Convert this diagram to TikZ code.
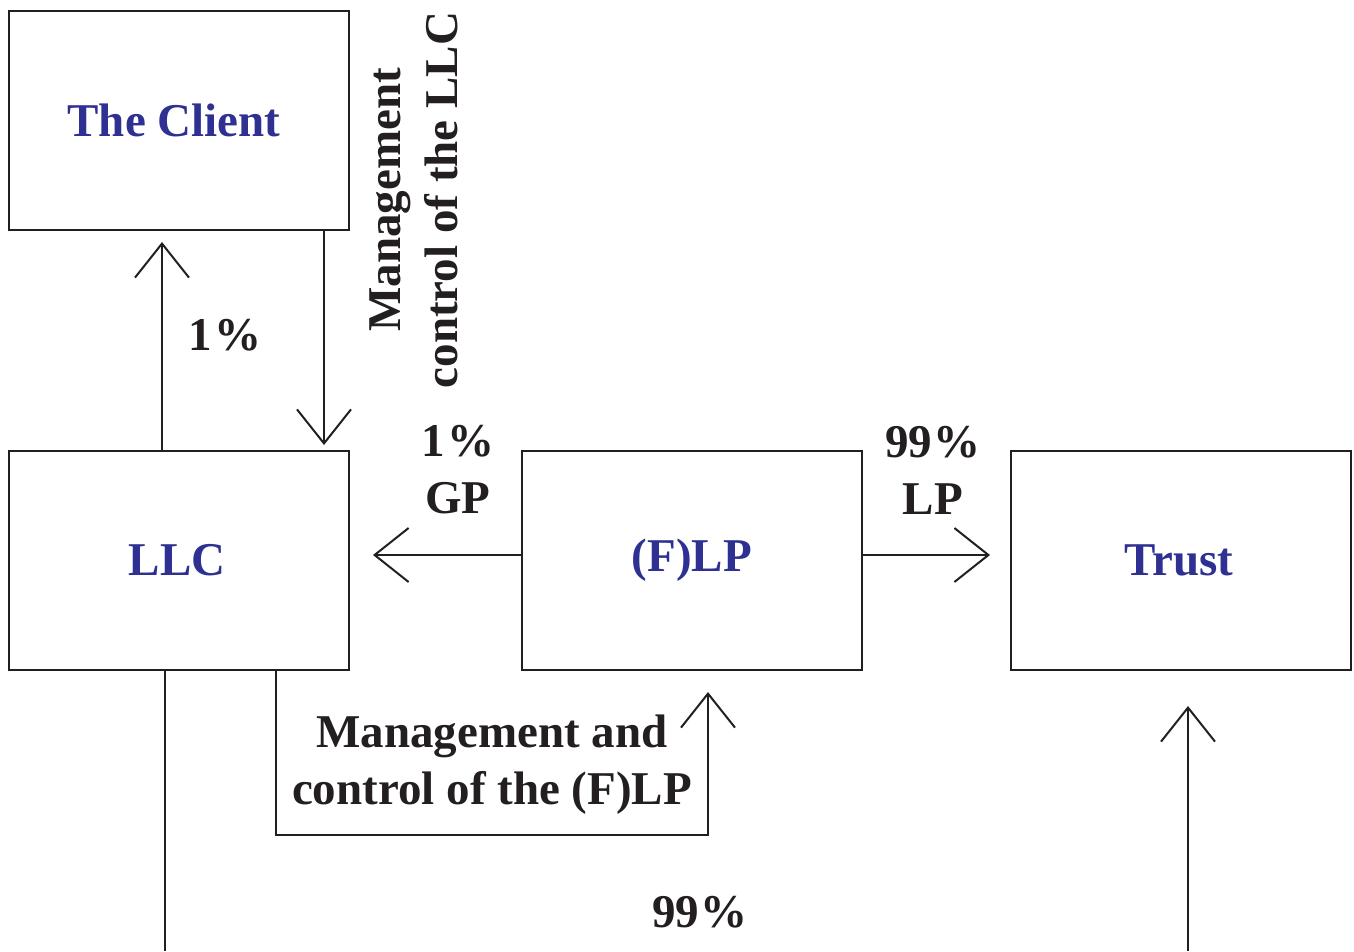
\documentclass[tikz,border=0pt]{standalone}
\usepackage{fontspec}
\setmainfont{Liberation Serif}
\usetikzlibrary{arrows.meta}
\definecolor{ink}{RGB}{35,31,32}
\definecolor{bluetext}{RGB}{46,49,146}
\newcommand{\pct}{\kern2pt\%}
\tikzset{
  box/.style={draw=ink, line width=2pt, minimum width=340pt, minimum height=219pt, inner sep=0pt, text=bluetext, font=\fontsize{47}{57}\selectfont\bfseries},
  lbl/.style={text=ink, font=\fontsize{47}{57}\selectfont\bfseries, align=center, inner sep=0pt},
  conn/.style={draw=ink, line width=2pt},
  arr/.style={conn, -{Straight Barb[length=34pt,width=54pt,line width=2pt]}}
}
\begin{document}
\begin{tikzpicture}[x=1pt,y=-1pt]
\useasboundingbox (0,0) rectangle (1354,951);
\node[box] (client) at (179,120) {\kern-10pt The Client};
\node[box] (llc) at (179,560.5) {\kern-4pt LLC};
\node[box] (flp) at (692,560.5) {(F)LP};
\node[box] (trust) at (1181,560.5) {\kern-4pt Trust};
% coordinates for free ends
\coordinate (c1) at (162,242);
\coordinate (c2) at (324,445);
\coordinate (c3) at (373,555);
\coordinate (c4) at (990,555);
\coordinate (c5) at (276,835);
\coordinate (c6) at (708,692);
\coordinate (c7) at (165,951);
\coordinate (c8) at (1188,951);
\coordinate (c9) at (1188,706);
% connectors
\draw[arr] (llc.north -| c1) -- (c1);
\draw[arr] (client.south -| c2) -- (c2);
\draw[arr] (flp.west |- c3) -- (c3);
\draw[arr] (flp.east |- c4) -- (c4);
\draw[arr] (llc.south -| c5) -- (c5) -| (c6);
\draw[conn] (llc.south -| c7) -- (c7);
\draw[arr] (c8) -- (c9);
% labels
\node[lbl] (p1) at (225,335) {1\pct};
\node[lbl, rotate=90] (mgmt1) at (414,200) {Management\\control of the LLC};
\node[lbl] (gp) at (458,470) {1\pct\\GP};
\node[lbl] (lp) at (933,470) {99\pct\\LP};
\node[lbl] (mgmt2) at (492,765) {Management and\\control of the (F)LP};
\node[lbl] (p99) at (700,912) {99\pct};
\end{tikzpicture}
\end{document}
